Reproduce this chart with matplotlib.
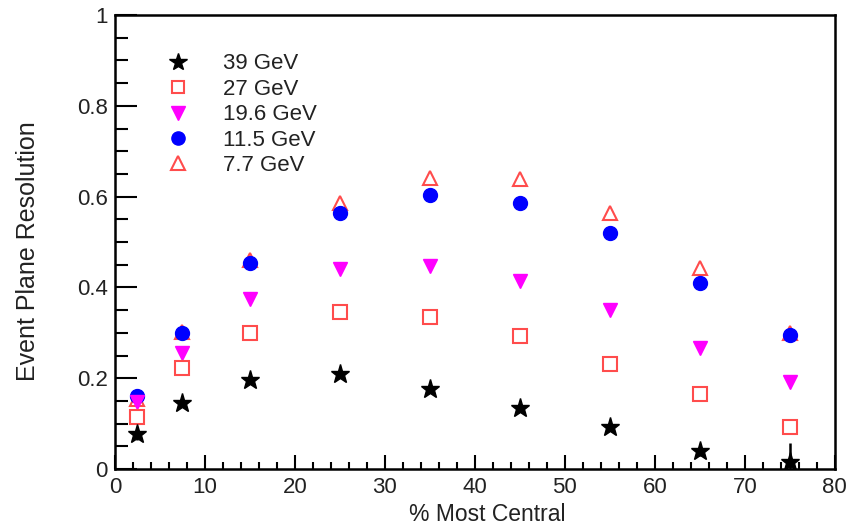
import matplotlib
matplotlib.use("Agg")
import matplotlib.pyplot as plt
from matplotlib.ticker import MultipleLocator
from matplotlib import font_manager

# centrality bin centres (% most central)
centrality = [2.5, 7.5, 15, 25, 35, 45, 55, 65, 75]

# event plane resolution per beam energy
res_39 = [0.077, 0.145, 0.195, 0.210, 0.176, 0.134, 0.093, 0.040, 0.016]
err_39 = [0.012, 0.0, 0.0, 0.0, 0.0, 0.0, 0.0, 0.012, 0.042]
res_27 = [0.114, 0.222, 0.300, 0.345, 0.334, 0.294, 0.232, 0.165, 0.092]
res_19 = [0.148, 0.256, 0.374, 0.440, 0.447, 0.415, 0.350, 0.267, 0.192]
res_11 = [0.161, 0.299, 0.454, 0.564, 0.603, 0.587, 0.519, 0.409, 0.296]
res_7 = [0.155, 0.302, 0.460, 0.587, 0.642, 0.638, 0.565, 0.442, 0.300]

labels = ["39 GeV", "27 GeV", "19.6 GeV", "11.5 GeV", "7.7 GeV"]

names = {f.name for f in font_manager.fontManager.ttflist}
main_font = "Liberation Sans" if "Liberation Sans" in names else "DejaVu Sans"
plt.rcParams['font.family'] = [main_font, 'DejaVu Sans']

txt = '#222222'
red = '#ff4c4c'

fig = plt.figure(figsize=(8.51, 5.29), dpi=100)
ax = fig.add_axes([0.135, 0.1134, 0.846, 0.8582])

# 7.7 drawn first so the others sit on top of it
h7, = ax.plot(centrality, res_7, linestyle='none', marker='^', ms=10,
              mfc='none', mec=red, mew=1.5, zorder=2)
h11, = ax.plot(centrality, res_11, linestyle='none', marker='o', ms=10,
               color='#0000ff', mec='#0000ff', zorder=3)
h19, = ax.plot(centrality, res_19, linestyle='none', marker='v', ms=10,
               color='#ff00ff', mec='#ff00ff', zorder=4)
h27, = ax.plot(centrality, res_27, linestyle='none', marker='s', ms=9.5,
               mfc='none', mec=red, mew=1.5, zorder=5)
ax.errorbar(centrality, res_39, yerr=err_39, fmt='none', ecolor='black',
            elinewidth=1.8, capsize=0, zorder=6)
h39, = ax.plot(centrality, res_39, linestyle='none', marker='*', ms=14,
               color='black', mec='black', zorder=7)

ax.set_xlim(0, 80)
ax.set_ylim(0, 1)
ax.xaxis.set_major_locator(MultipleLocator(10))
ax.xaxis.set_minor_locator(MultipleLocator(2))
ax.yaxis.set_major_locator(MultipleLocator(0.2))
ax.yaxis.set_minor_locator(MultipleLocator(0.05))
ax.set_yticks([0, 0.2, 0.4, 0.6, 0.8, 1.0])
ax.set_yticklabels(['0', '0.2', '0.4', '0.6', '0.8', '1'])

ax.tick_params(axis='both', which='both', direction='in', top=False, right=False,
               colors='black', labelcolor=txt, labelsize=16, width=1.5)
ax.tick_params(axis='y', which='major', length=16, pad=5)
ax.tick_params(axis='y', which='minor', length=9)
ax.tick_params(axis='x', which='major', length=10, pad=6)
ax.tick_params(axis='x', which='minor', length=5)
for s in ax.spines.values():
    s.set_linewidth(1.8)

ax.set_xlabel('% Most Central', fontsize=16.5, color=txt)
ax.xaxis.set_label_coords(0.517, -0.075)
ax.set_ylabel('Event Plane Resolution', fontsize=18, color=txt)
ax.yaxis.set_label_coords(-0.104, 0.48)

leg = ax.legend([h39, h27, h19, h11, h7], labels, loc='upper left',
                bbox_to_anchor=(0.045, 0.935), frameon=False, fontsize=16,
                handletextpad=1.0, labelspacing=0.2, borderaxespad=0.0,
                markerscale=0.95)
for t in leg.get_texts():
    t.set_color(txt)

fig.savefig('out.png', dpi=100)
